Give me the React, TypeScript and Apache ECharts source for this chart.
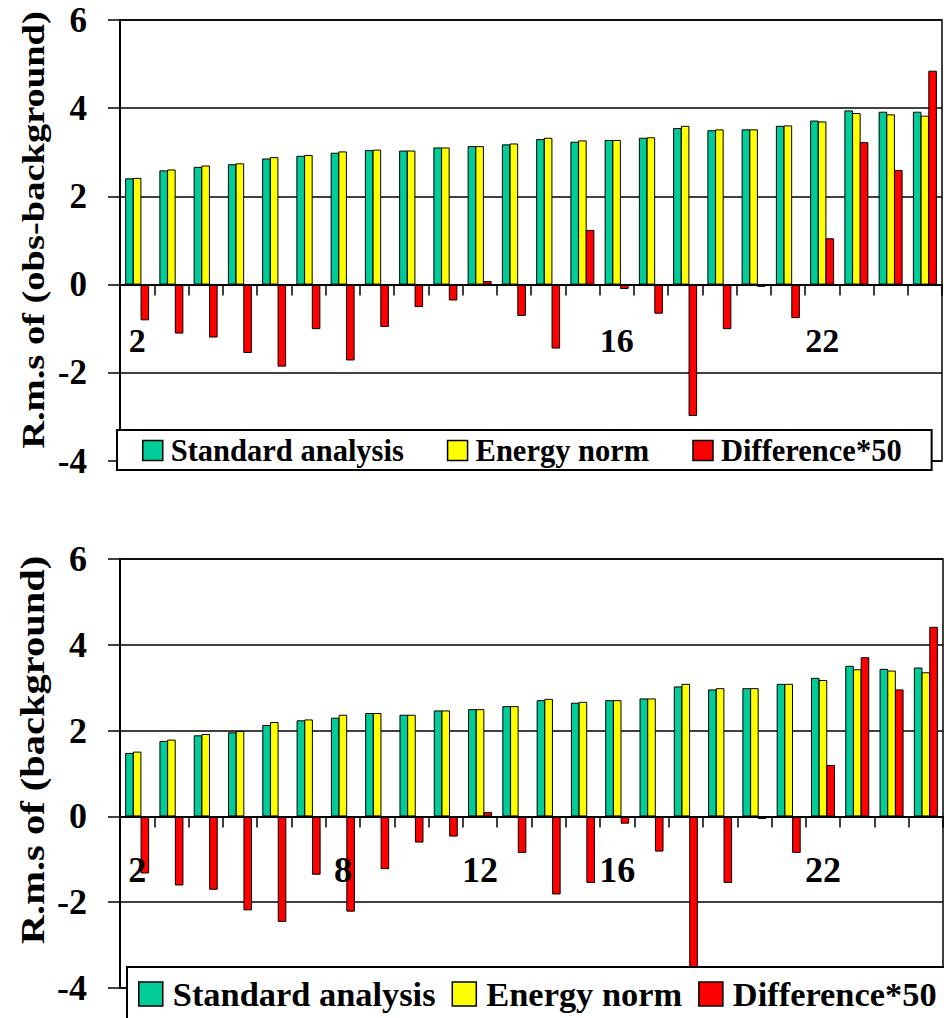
import React, { useEffect, useRef } from "react";
import * as echarts from "echarts";

const categories = ["2","3","4","5","6","7","8","9","10","11","12","13","14","15","16","17","18","19","20","21","22","23","24","25"];
const seriesNames = ["Standard analysis", "Energy norm", "Difference*50"];

const topShownLabels = ["2", "16", "22"];
const bottomShownLabels = ["2", "8", "12", "16", "22"];

const topStandard = [2.41, 2.59, 2.67, 2.73, 2.86, 2.92, 2.99, 3.05, 3.04, 3.11, 3.14, 3.18, 3.30, 3.24, 3.28, 3.33, 3.55, 3.50, 3.52, 3.60, 3.72, 3.95, 3.92, 3.92];
const topEnergy = [2.42, 2.61, 2.70, 2.75, 2.89, 2.94, 3.02, 3.06, 3.04, 3.11, 3.14, 3.20, 3.33, 3.27, 3.28, 3.34, 3.60, 3.52, 3.52, 3.61, 3.70, 3.89, 3.86, 3.83];
const topDiff = [-0.81, -1.11, -1.20, -1.55, -1.86, -1.01, -1.72, -0.96, -0.51, -0.36, 0.08, -0.71, -1.45, 1.24, -0.10, -0.66, -2.98, -1.01, -0.05, -0.76, 1.05, 3.23, 2.60, 4.85];

const bottomStandard = [1.48, 1.76, 1.89, 1.96, 2.13, 2.24, 2.30, 2.41, 2.37, 2.47, 2.50, 2.57, 2.71, 2.65, 2.71, 2.75, 3.03, 2.96, 2.99, 3.09, 3.23, 3.51, 3.44, 3.47];
const bottomEnergy = [1.51, 1.79, 1.92, 1.99, 2.20, 2.26, 2.37, 2.41, 2.37, 2.47, 2.50, 2.57, 2.74, 2.67, 2.71, 2.75, 3.09, 2.99, 2.99, 3.09, 3.18, 3.43, 3.40, 3.36];
const bottomDiff = [-1.33, -1.61, -1.71, -2.19, -2.46, -1.36, -2.22, -1.23, -0.61, -0.47, 0.10, -0.85, -1.82, -1.55, -0.17, -0.82, -3.62, -1.55, -0.06, -0.85, 1.20, 3.71, 2.96, 4.42];

const yTicks = { min: -4, max: 6, interval: 2 };
const colors = ["#00CC99", "#FFFF00", "#FF0000"];
const FONT = '"Liberation Serif", "Times New Roman", serif';

function yAxisCfg(gridIndex: number, fontSize: number) {
  return {
    gridIndex,
    type: "value",
    min: yTicks.min,
    max: yTicks.max,
    interval: yTicks.interval,
    axisLine: { show: true, lineStyle: { color: "#000", width: 2 } },
    axisTick: { show: true, inside: false, length: 12, lineStyle: { color: "#000", width: 1.5 } },
    splitLine: { show: true, lineStyle: { color: "#000", width: 1.5 } },
    axisLabel: { color: "#000", fontSize, fontWeight: "bold", fontFamily: FONT, margin: 33 },
  };
}

function xAxisCfg(gridIndex: number, shown: string[], fontSize: number, margin: number) {
  return {
    gridIndex,
    type: "category",
    data: categories,
    z: 10,
    axisLine: { show: true, onZero: true, lineStyle: { color: "#000", width: 2 } },
    axisTick: { show: true, inside: false, interval: 0, length: 11, lineStyle: { color: "#000", width: 1.5 } },
    splitLine: { show: false },
    axisLabel: {
      interval: (_i: number, v: string) => shown.includes(v),
      color: "#000",
      fontSize,
      fontWeight: "bold",
      fontFamily: FONT,
      margin,
      hideOverlap: false,
    },
  };
}

function barSeries(name: string, data: number[], color: string, axisIndex: number) {
  return {
    name,
    type: "bar",
    xAxisIndex: axisIndex,
    yAxisIndex: axisIndex,
    data,
    barCategoryGap: "30%",
    barGap: "-10%",
    itemStyle: { color, borderColor: "#000", borderWidth: 1, borderRadius: 0 },
  };
}

export default function App() {
  const ref = useRef<HTMLDivElement>(null);
  useEffect(() => {
    if (!ref.current) return;
    const chart = echarts.init(ref.current, null, { renderer: "svg" });
    chart.setOption({
      animation: false,
      backgroundColor: "#fff",
      grid: [
        { left: 120, top: 20, width: 822, height: 441, show: true, borderColor: "#000", borderWidth: 1.5, containLabel: false },
        { left: 120, top: 559, width: 823, height: 429, show: true, borderColor: "#000", borderWidth: 1.5, containLabel: false },
      ],
      xAxis: [xAxisCfg(0, topShownLabels, 34, -138), xAxisCfg(1, bottomShownLabels, 36, -136)],
      yAxis: [yAxisCfg(0, 35), yAxisCfg(1, 36)],
      legend: [
        {
          left: 117,
          top: 430,
          width: 900,
          orient: "horizontal",
          icon: "rect",
          itemWidth: 20,
          itemHeight: 20,
          itemGap: 43,
          padding: [5, 30, 4, 25],
          backgroundColor: "#fff",
          borderColor: "#000",
          borderWidth: 2,
          borderRadius: 0,
          selectedMode: false,
          itemStyle: { borderColor: "#000", borderWidth: 1.5 },
          textStyle: { color: "#000", fontSize: 30.5, fontWeight: "bold", fontFamily: FONT, padding: [0, 0, 0, 3] },
          data: seriesNames,
        },
        {
          left: 127,
          top: 967,
          width: 1000,
          orient: "horizontal",
          icon: "rect",
          itemWidth: 24,
          itemHeight: 24,
          itemGap: 16,
          padding: [10, 30, 30, 11],
          backgroundColor: "#fff",
          borderColor: "#000",
          borderWidth: 2,
          borderRadius: 0,
          selectedMode: false,
          itemStyle: { borderColor: "#000", borderWidth: 1.5 },
          textStyle: { color: "#000", fontSize: 34.4, fontWeight: "bold", fontFamily: FONT, padding: [0, 0, 0, 5] },
          data: seriesNames,
        },
      ],
      graphic: [
        {
          type: "text",
          x: 34,
          y: 230,
          rotation: Math.PI / 2,
          scaleY: 0.82,
          style: { text: "R.m.s of (obs-background)", font: `bold 38.5px ${FONT}`, fill: "#000", align: "center", verticalAlign: "middle" },
        },
        {
          type: "text",
          x: 33,
          y: 750,
          rotation: Math.PI / 2,
          scaleY: 0.82,
          style: { text: "R.m.s of (background)", font: `bold 40.5px ${FONT}`, fill: "#000", align: "center", verticalAlign: "middle" },
        },
      ],
      series: [
        barSeries(seriesNames[0], topStandard, colors[0], 0),
        barSeries(seriesNames[1], topEnergy, colors[1], 0),
        barSeries(seriesNames[2], topDiff, colors[2], 0),
        barSeries(seriesNames[0], bottomStandard, colors[0], 1),
        barSeries(seriesNames[1], bottomEnergy, colors[1], 1),
        barSeries(seriesNames[2], bottomDiff, colors[2], 1),
      ],
    });
    return () => chart.dispose();
  }, []);
  return <div ref={ref} style={{ position: "absolute", left: 0, top: 0, width: 944, height: 1018 }} />;
}
